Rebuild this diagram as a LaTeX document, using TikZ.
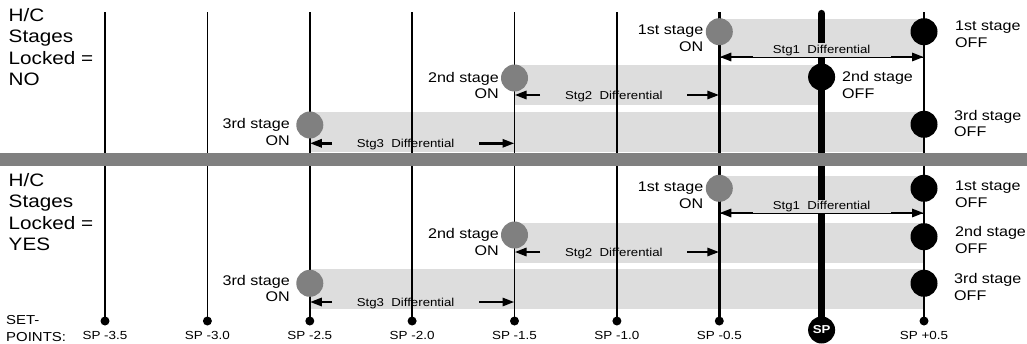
\documentclass[tikz,border=0pt]{standalone}
\usepackage{fontspec}
\setmainfont[FakeStretch=1.15]{Liberation Sans}
\usetikzlibrary{arrows.meta}
\definecolor{bandgray}{HTML}{DDDDDD}
\definecolor{midgray}{HTML}{808080}
\tikzset{
  vline/.style={line width=1.6pt},
  hvline/.style={line width=2.4pt},
  bandfill/.style={fill=bandgray},
  oncirc/.style={circle, fill=midgray, minimum size=27pt, inner sep=0pt},
  offcirc/.style={circle, fill=black, minimum size=27pt, inner sep=0pt},
  dotnode/.style={circle, fill=black, minimum size=9pt, inner sep=0pt},
  lbl/.style={inner sep=0pt, font=\fontsize{14}{16.6}\selectfont},
  lblL/.style={lbl, anchor=base east, align=right},
  lblR/.style={lbl, anchor=base west, align=left},
  hdr/.style={inner sep=0pt, anchor=base west, align=left, font=\fontsize{18}{21.2}\selectfont},
  difflbl/.style={inner sep=0pt, anchor=base, font=\fontsize{11.5}{13}\selectfont},
  splbl/.style={inner sep=0pt, anchor=base, font=\fontsize{11.7}{13}\selectfont},
  sparrow/.style={line width=2.8pt, -{Triangle[length=12pt,width=8pt]}},
  thinline/.style={line width=1pt},
}
\begin{document}
\begin{tikzpicture}[x=1pt,y=-1pt]
\useasboundingbox (0,0) rectangle (1027,343);
% x positions
\def\xa{105}\def\xb{207.4}\def\xc{309.8}\def\xd{412.1}\def\xe{514.5}
\def\xf{616.9}\def\xg{719.3}\def\xh{821.6}\def\xi{924}
% ---------- bands ----------
\fill[bandfill] (\xg,19) rectangle (\xi,57);
\fill[bandfill] (\xe,65) rectangle (\xh,105);
\fill[bandfill] (\xc,112) rectangle (\xi,151.7);
\fill[bandfill] (\xg,176) rectangle (\xi,213);
\fill[bandfill] (\xe,223) rectangle (\xi,263);
\fill[bandfill] (\xc,269) rectangle (\xi,309);
% ---------- vertical set-point lines ----------
\foreach \x/\n in {\xa/a,\xb/b,\xc/c,\xd/d,\xe/e,\xf/f} {
  \coordinate (top\n) at (\x,12);
  \node[dotnode] (dot\n) at (\x,321) {};
  \draw[vline] (top\n) -- (dot\n.center);
}
\foreach \x/\n in {\xg/g,\xi/i} {
  \coordinate (top\n) at (\x,12);
  \node[dotnode] (dot\n) at (\x,321) {};
  \draw[hvline] (top\n) -- (dot\n.center);
}
\coordinate (toph) at (\xh,13.5);
\coordinate (both) at (\xh,330);
\draw[line width=7.3pt, line cap=round] (toph) -- (both);
% ---------- separator bar ----------
\fill[midgray] (0,153.3) rectangle (1027,165.5);
% SP marker
\node[circle, fill=black, minimum size=27pt, inner sep=0pt, text=white,
      font=\fontsize{11.5}{13}\selectfont\bfseries] (spc) at (both) {SP};
% ---------- headers (anchor = baseline of last line) ----------
\node[hdr] (hdrA) at (8.5,85.3) {H/C\\Stages\\Locked =\\NO};
\node[hdr] (hdrB) at (8.5,250.2) {H/C\\Stages\\Locked =\\YES};
\node[inner sep=0pt, anchor=base west, align=left, font=\fontsize{13}{17.5}\selectfont] (setp) at (6,341.8) {SET-\\POINTS:};
% ---------- SP labels ----------
\node[splbl] (spa) at (\xa,339.5) {SP -3.5};
\node[splbl] (spb) at (\xb,339.5) {SP -3.0};
\node[splbl] (spcc) at (\xc,339.5) {SP -2.5};
\node[splbl] (spd) at (\xd,339.5) {SP -2.0};
\node[splbl] (spe) at (\xe,339.5) {SP -1.5};
\node[splbl] (spf) at (\xf,339.5) {SP -1.0};
\node[splbl] (spg) at (\xg,339.5) {SP -0.5};
\node[splbl] (spi) at (\xi,339.5) {SP +0.5};
% ---------- TOP: differential arrows ----------
\node[difflbl, fill=bandgray, inner sep=1.5pt] (d1A) at (\xh,53.3) {Stg1\ \ Differential};
\coordinate (a1L) at (\xg,57); \coordinate (a1R) at (\xi,57);
\coordinate (a1Ls) at (753,57); \coordinate (a1Rs) at (891,57);
\draw[thinline] (a1L) -- (a1R);
\draw[sparrow] (a1Ls) -- (a1L);
\draw[sparrow] (a1Rs) -- (a1R);
\node[difflbl] (d2A) at (613.8,99) {Stg2\ \ Differential};
\coordinate (a2L) at (\xe,95); \coordinate (a2Ls) at (540,95);
\coordinate (a2R) at (\xg,95); \coordinate (a2Rs) at (687,95);
\draw[sparrow] (a2Ls) -- (a2L);
\draw[sparrow] (a2Rs) -- (a2R);
\node[difflbl] (d3A) at (405.6,147.3) {Stg3\ \ Differential};
\coordinate (a3L) at (\xc,143.3); \coordinate (a3Ls) at (332,143.3);
\coordinate (a3R) at (\xe,143.3); \coordinate (a3Rs) at (479,143.3);
\draw[sparrow] (a3Ls) -- (a3L);
\draw[sparrow] (a3Rs) -- (a3R);
% ---------- BOTTOM: differential arrows ----------
\node[difflbl, fill=bandgray, inner sep=1.5pt] (d1B) at (\xh,209.5) {Stg1\ \ Differential};
\coordinate (b1L) at (\xg,213); \coordinate (b1R) at (\xi,213);
\coordinate (b1Ls) at (753,213); \coordinate (b1Rs) at (891,213);
\draw[thinline] (b1L) -- (b1R);
\draw[sparrow] (b1Ls) -- (b1L);
\draw[sparrow] (b1Rs) -- (b1R);
\node[difflbl] (d2B) at (613.8,256) {Stg2\ \ Differential};
\coordinate (b2L) at (\xe,252); \coordinate (b2Ls) at (540,252);
\coordinate (b2R) at (\xg,252); \coordinate (b2Rs) at (687,252);
\draw[sparrow] (b2Ls) -- (b2L);
\draw[sparrow] (b2Rs) -- (b2R);
\node[difflbl] (d3B) at (405.6,306) {Stg3\ \ Differential};
\coordinate (b3L) at (\xc,302); \coordinate (b3Ls) at (332,302);
\coordinate (b3R) at (\xe,302); \coordinate (b3Rs) at (479,302);
\draw[sparrow] (b3Ls) -- (b3L);
\draw[sparrow] (b3Rs) -- (b3R);
% ---------- TOP: circles ----------
\node[oncirc] (on1A) at (\xg,31.7) {};
\node[offcirc] (off1A) at (\xi,31.7) {};
\node[oncirc] (on2A) at (\xe,78) {};
\node[offcirc] (off2A) at (\xh,77) {};
\node[oncirc] (on3A) at (\xc,125) {};
\node[offcirc] (off3A) at (\xi,124.3) {};
% ---------- BOTTOM: circles ----------
\node[oncirc] (on1B) at (\xg,188.3) {};
\node[offcirc] (off1B) at (\xi,188.3) {};
\node[oncirc] (on2B) at (\xe,235) {};
\node[offcirc] (off2B) at (\xi,236.7) {};
\node[oncirc] (on3B) at (\xc,283.3) {};
\node[offcirc] (off3B) at (\xi,283.3) {};
% ---------- TOP: labels (anchor = baseline of last line) ----------
\node[lblL] (on1Al) at (703.5,51.3) {1st stage\\ON};
\node[lblR] (off1Al) at (955,47.3) {1st stage\\OFF};
\node[lblL] (on2Al) at (499,98.8) {2nd stage\\ON};
\node[lblR] (off2Al) at (842,98.3) {2nd stage\\OFF};
\node[lblL] (on3Al) at (290,145) {3rd stage\\ON};
\node[lblR] (off3Al) at (954,136.7) {3rd stage\\OFF};
% ---------- BOTTOM: labels ----------
\node[lblL] (on1Bl) at (703.5,208.5) {1st stage\\ON};
\node[lblR] (off1Bl) at (955,207) {1st stage\\OFF};
\node[lblL] (on2Bl) at (499,255.5) {2nd stage\\ON};
\node[lblR] (off2Bl) at (955,253.3) {2nd stage\\OFF};
\node[lblL] (on3Bl) at (290,301.7) {3rd stage\\ON};
\node[lblR] (off3Bl) at (954,300) {3rd stage\\OFF};
\end{tikzpicture}
\end{document}
